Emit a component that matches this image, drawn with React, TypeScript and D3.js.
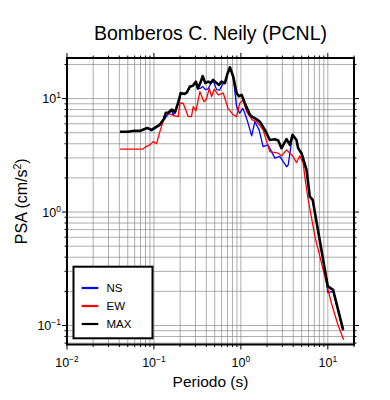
import React from "react";
import * as d3 from "d3";

// espectros de pseudo-aceleracion, [periodo (s), PSA (cm/s2)]
const nsData: [number, number][] = [
  [0.0407, 5.1], [0.05, 5.1], [0.06, 5.2], [0.07, 5.2], [0.078, 5.4], [0.084, 5.5],
  [0.094, 5.2], [0.105, 5.5], [0.117, 5.8], [0.13, 6.5], [0.146, 7.3], [0.16, 7.9],
  [0.166, 7.2], [0.175, 7.5], [0.19, 9.0], [0.203, 11.0], [0.225, 10.9], [0.238, 11.2],
  [0.26, 12.7], [0.28, 12.9], [0.304, 13.9], [0.32, 12.2], [0.34, 12.3], [0.363, 12.8],
  [0.39, 12.0], [0.42, 12.2], [0.45, 13.5], [0.48, 14.4], [0.526, 12.0], [0.57, 11.9],
  [0.62, 13.5], [0.655, 13.6], [0.7, 16.4], [0.748, 18.8], [0.817, 15.4], [0.893, 8.5],
  [0.97, 7.43], [1.05, 8.2], [1.11, 7.43], [1.2, 6.2], [1.33, 4.69], [1.45, 6.26],
  [1.62, 5.3], [1.8, 3.78], [2.05, 3.91], [2.46, 2.99], [2.8, 3.09], [3.35, 2.51],
  [3.5, 2.6], [3.93, 4.79], [4.36, 4.3], [4.56, 3.6], [4.98, 3.25], [5.69, 2.3],
  [6.21, 1.37], [6.7, 1.26], [9.25, 0.31], [10.0, 0.195], [11.5, 0.2], [15.0, 0.09],
];

const ewData: [number, number][] = [
  [0.0407, 3.58], [0.074, 3.58], [0.08, 3.75], [0.09, 3.91], [0.098, 4.18], [0.107, 4.0],
  [0.117, 5.12], [0.137, 7.43], [0.155, 7.3], [0.174, 7.04], [0.19, 6.94], [0.199, 9.1],
  [0.217, 9.1], [0.248, 6.94], [0.27, 6.94], [0.283, 8.5], [0.304, 7.8], [0.338, 11.5],
  [0.376, 9.4], [0.4, 9.8], [0.433, 12.3], [0.46, 10.4], [0.493, 12.1], [0.55, 10.8],
  [0.627, 11.2], [0.71, 8.2], [0.817, 7.2], [0.893, 6.94], [0.97, 9.1], [1.06, 9.7],
  [1.16, 7.7], [1.35, 6.5], [1.52, 6.26], [1.8, 5.3], [2.15, 3.41], [2.69, 3.3],
  [2.93, 3.13], [3.35, 3.53], [3.66, 3.3], [3.98, 3.09], [4.36, 2.73], [4.76, 3.13],
  [5.2, 2.7], [5.5, 1.92], [5.9, 1.33], [7.1, 0.61], [9.25, 0.27], [11.0, 0.157],
  [13.1, 0.101], [15.2, 0.075],
];

const maxData: [number, number][] = [
  [0.0407, 5.1], [0.05, 5.1], [0.06, 5.2], [0.07, 5.2], [0.078, 5.4], [0.084, 5.5],
  [0.094, 5.3], [0.105, 5.6], [0.117, 5.9], [0.13, 6.6], [0.137, 7.5], [0.146, 7.5],
  [0.16, 8.0], [0.175, 7.6], [0.19, 9.2], [0.203, 11.2], [0.225, 11.0], [0.238, 11.3],
  [0.26, 12.8], [0.28, 13.0], [0.304, 14.1], [0.32, 12.3], [0.345, 14.0], [0.363, 15.8],
  [0.39, 13.7], [0.42, 14.1], [0.45, 13.8], [0.48, 14.6], [0.526, 13.7], [0.56, 13.2],
  [0.6, 14.1], [0.655, 13.7], [0.7, 16.5], [0.748, 18.9], [0.817, 15.6], [0.893, 11.2],
  [0.95, 10.5], [1.02, 10.8], [1.11, 9.1], [1.27, 7.2], [1.35, 6.9], [1.45, 6.7],
  [1.55, 6.5], [1.65, 6.26], [1.89, 5.3], [2.15, 4.32], [2.46, 4.39], [2.69, 4.28],
  [2.93, 3.66], [3.35, 4.39], [3.66, 3.91], [3.93, 4.79], [4.36, 4.32], [4.56, 3.66],
  [4.98, 3.3], [5.69, 2.35], [6.21, 1.37], [6.7, 1.28], [9.25, 0.31], [10.0, 0.221],
  [11.5, 0.206], [15.0, 0.0916],
];

const xMajor = [0.01, 0.1, 1, 10];
const yMajor = [0.1, 1, 10];
const legendNames = ["NS", "EW", "MAX"];
const legendColors = ["#0000ff", "#ff0000", "#000000"];

const W = 390;
const H = 400;
const font = "'Liberation Sans', Arial, Helvetica, sans-serif";

const x = d3.scaleLog().domain([0.01, 20]).range([67, 354]);
const y = d3.scaleLog().domain([0.068, 22.8]).range([344.5, 58]);

const isMajor = (v: number) => Math.abs(Math.log10(v) - Math.round(Math.log10(v))) < 1e-6;
const expo = (v: number) => {
  const e = Math.round(Math.log10(v));
  return e < 0 ? "\u2212" + Math.abs(e) : String(e);
};

export default function App() {
  const [x0, x1] = x.range();
  const [y1, y0] = y.range();
  const xt = x.ticks();
  const yt = y.ticks();
  const line = d3.line<[number, number]>().x(d => x(d[0])).y(d => y(d[1]));
  const series = [
    { d: nsData, c: "#0000ff", w: 1.3 },
    { d: ewData, c: "#ff0000", w: 1.3 },
    { d: maxData, c: "#000000", w: 2.6 },
  ];

  return (
    <div style={{ position: "absolute", left: 0, top: 0 }}>
      <svg width={W} height={H} style={{ display: "block", background: "#fff" }} fontFamily={font}>
        <defs>
          <clipPath id="plot">
            <rect x={x0} y={y0} width={x1 - x0} height={y1 - y0} />
          </clipPath>
        </defs>

        {/* grid */}
        <g stroke="#8a8a8a" strokeWidth={0.7}>
          {xt.map((t, i) => (
            <line key={"gx" + i} x1={x(t)} x2={x(t)} y1={y0} y2={y1} />
          ))}
          {yt.map((t, i) => (
            <line key={"gy" + i} x1={x0} x2={x1} y1={y(t)} y2={y(t)} />
          ))}
        </g>

        {/* ticks on all four sides, outward */}
        <g stroke="#000" strokeWidth={1}>
          {xt.map((t, i) => {
            const l = isMajor(t) ? 5 : 2.5;
            return (
              <g key={"tx" + i}>
                <line x1={x(t)} x2={x(t)} y1={y1} y2={y1 + l} />
                <line x1={x(t)} x2={x(t)} y1={y0} y2={y0 - l} />
              </g>
            );
          })}
          {yt.map((t, i) => {
            const l = isMajor(t) ? 5 : 2.5;
            return (
              <g key={"ty" + i}>
                <line x1={x0} x2={x0 - l} y1={y(t)} y2={y(t)} />
                <line x1={x1} x2={x1 + l} y1={y(t)} y2={y(t)} />
              </g>
            );
          })}
        </g>

        {/* curves */}
        <g clipPath="url(#plot)" fill="none" strokeLinejoin="round">
          {series.map((s, i) => (
            <path key={i} d={line(s.d) || ""} stroke={s.c} strokeWidth={s.w} />
          ))}
        </g>

        {/* frame */}
        <rect x={x0} y={y0} width={x1 - x0} height={y1 - y0} fill="none" stroke="#000" strokeWidth={2} />

        {/* tick labels */}
        <g fontSize={12.5} fill="#000">
          {xMajor.map((t, i) => (
            <text key={"lx" + i} x={x(t)} y={367} textAnchor="middle">
              10<tspan fontSize={8.5} dy={-5}>{expo(t)}</tspan>
            </text>
          ))}
          {yMajor.map((t, i) => (
            <text key={"ly" + i} x={61} y={y(t) + 4.5} textAnchor="end">
              10<tspan fontSize={8.5} dy={-5}>{expo(t)}</tspan>
            </text>
          ))}
        </g>

        {/* axis titles */}
        <text x={(x0 + x1) / 2} y={39.5} textAnchor="middle" fontSize={19.5}>
          Bomberos C. Neily (PCNL)
        </text>
        <text x={(x0 + x1) / 2} y={387} textAnchor="middle" fontSize={15.5}>
          Periodo (s)
        </text>
        <text transform={`translate(27,${(y0 + y1) / 2}) rotate(-90)`} textAnchor="middle" fontSize={16}>
          PSA (cm/s<tspan fontSize={10.5} dy={-6}>2</tspan>
          <tspan dy={6}>)</tspan>
        </text>

        {/* legend */}
        <g>
          <rect x={73.5} y={266.7} width={79} height={71.6} fill="#fff" stroke="#000" strokeWidth={2} />
          {legendNames.map((n, i) => (
            <g key={n} transform={`translate(0,${288 + i * 18})`}>
              <line x1={81.7} x2={98.3} y1={0} y2={0} stroke={legendColors[i]} strokeWidth={2.2} />
              <text x={106.5} y={4.2} fontSize={11.5}>{n}</text>
            </g>
          ))}
        </g>
      </svg>
    </div>
  );
}
